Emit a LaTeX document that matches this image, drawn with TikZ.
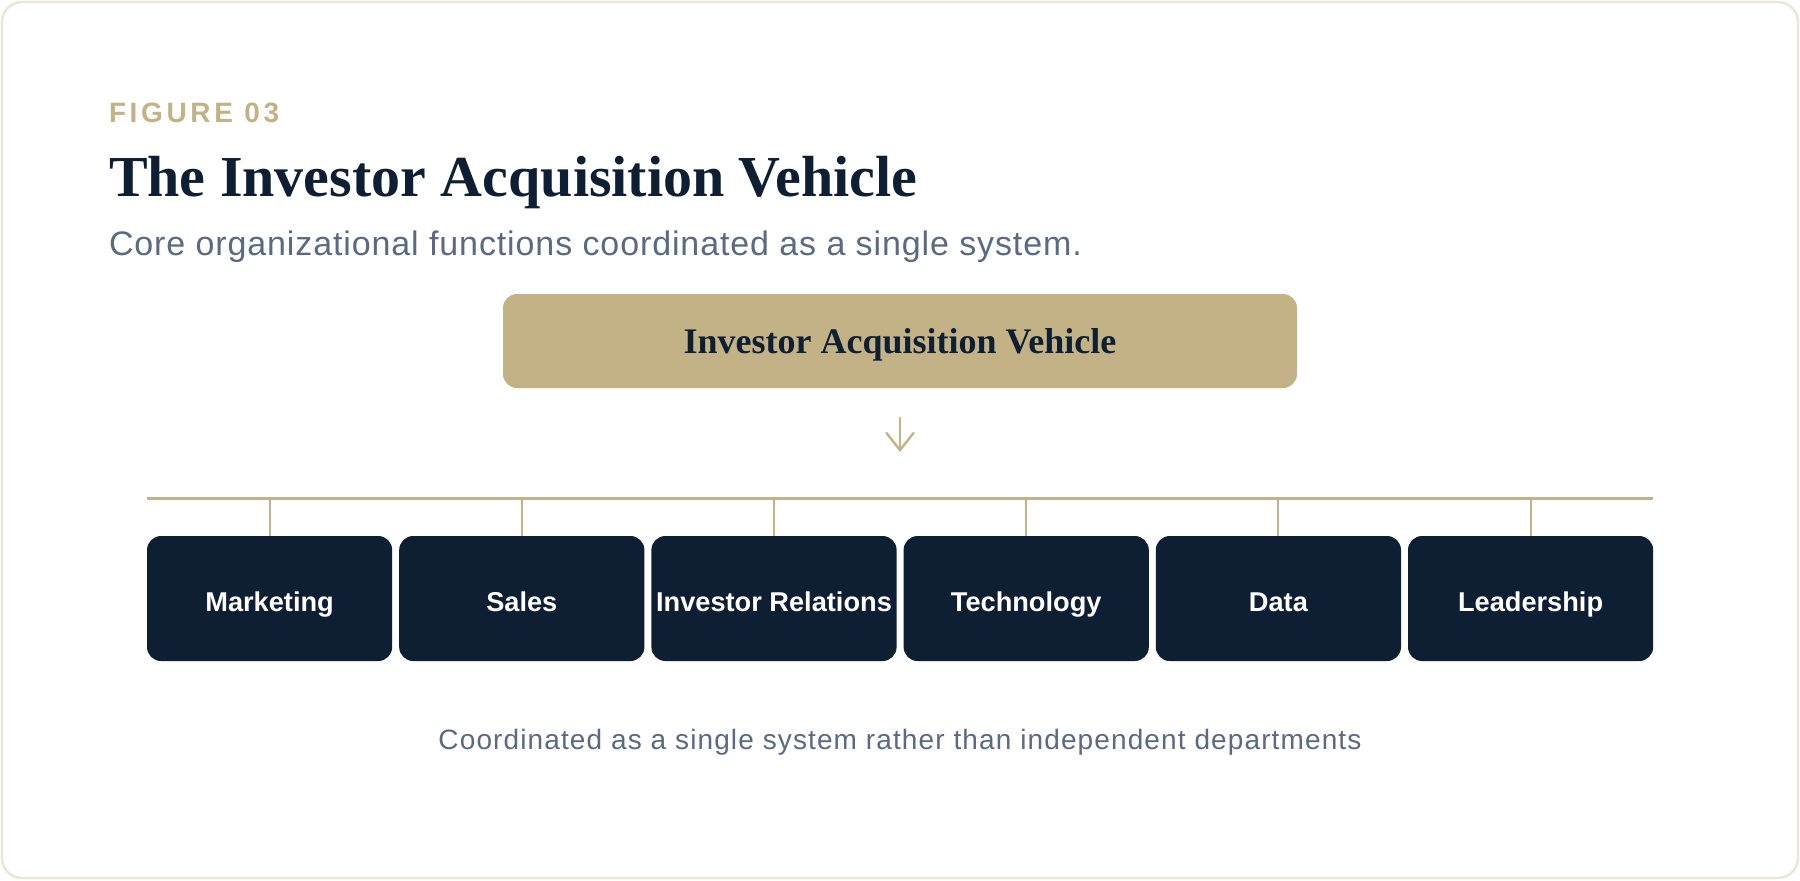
\documentclass[tikz,border=0pt]{standalone}
\usepackage{fontspec}
\setmainfont{Liberation Serif}
\setsansfont{Liberation Sans}
\usetikzlibrary{arrows.meta}
\definecolor{navy}{HTML}{0F1F33}
\definecolor{gold}{HTML}{C4B287}
\definecolor{slate}{HTML}{5A6A82}
\definecolor{cardline}{HTML}{ECE6D8}
\tikzset{
  txt/.style={inner sep=0pt, outer sep=0pt, anchor=base west},
  dept/.style={rectangle, fill=navy, rounded corners=7pt, minimum width=122.6pt,
    minimum height=62.5pt, inner sep=0pt, text=white, text height=12.5pt, text depth=0pt,
    font=\sffamily\bfseries\fontsize{13.6pt}{16pt}\selectfont},
  topbox/.style={rectangle, fill=gold, rounded corners=7pt, minimum width=397pt,
    minimum height=47pt, inner sep=0pt, text=navy, text height=12pt, text depth=0pt,
    font=\rmfamily\bfseries\fontsize{18pt}{22pt}\selectfont},
  bus/.style={draw=gold, line width=1.5pt},
  drop/.style={draw=gold, line width=1pt},
  arrowline/.style={draw=gold, line width=1.2pt, line cap=round,
    -{Straight Barb[length=8.5pt,width=13.5pt,line cap=round]}},
}
\begin{document}
\begin{tikzpicture}[x=0.5pt,y=-0.5pt]
\useasboundingbox (0,0) rectangle (1800,880);
\fill[white] (0,0) rectangle (1800,880);
\draw[cardline, line width=1.2pt, fill=white, rounded corners=10pt] (2,2) rectangle (1798,878);

\node[txt, text=gold, font=\sffamily\bfseries\fontsize{14pt}{16pt}\selectfont\addfontfeatures{LetterSpace=13}] (fig) at (109,122) {FIGURE 03};
\node[txt, text=navy, font=\rmfamily\bfseries\fontsize{29pt}{34pt}\selectfont] (title) at (109,196) {The Investor Acquisition Vehicle};
\node[txt, text=slate, font=\sffamily\fontsize{17pt}{20pt}\selectfont\addfontfeatures{LetterSpace=2.6}] (sub) at (109,255) {Core organizational functions coordinated as a single system.};

\node[topbox] (ivc) at (900,341) {Investor Acquisition Vehicle};

\coordinate (a1) at (900,418);
\coordinate (a2) at (900,452);
\draw[arrowline] (a1) -- (a2);

\coordinate (busL) at (147,498);
\coordinate (busR) at (1653,498);
\draw[bus] (busL) -- (busR);

\node[dept] (d1) at (269.6,598.5) {Marketing};
\node[dept] (d2) at (521.8,598.5) {Sales};
\node[dept] (d3) at (774.0,598.5) {Investor Relations};
\node[dept] (d4) at (1026.2,598.5) {Technology};
\node[dept] (d5) at (1278.4,598.5) {Data};
\node[dept] (d6) at (1530.6,598.5) {Leadership};

\foreach \d in {d1,d2,d3,d4,d5,d6}{
  \draw[drop] (\d.north) -- (\d.north |- busL);
}

\node[inner sep=0pt, anchor=base, text=slate, font=\sffamily\fontsize{14pt}{16pt}\selectfont\addfontfeatures{LetterSpace=4}] (cap) at (900,749) {Coordinated as a single system rather than independent departments};
\end{tikzpicture}
\end{document}
